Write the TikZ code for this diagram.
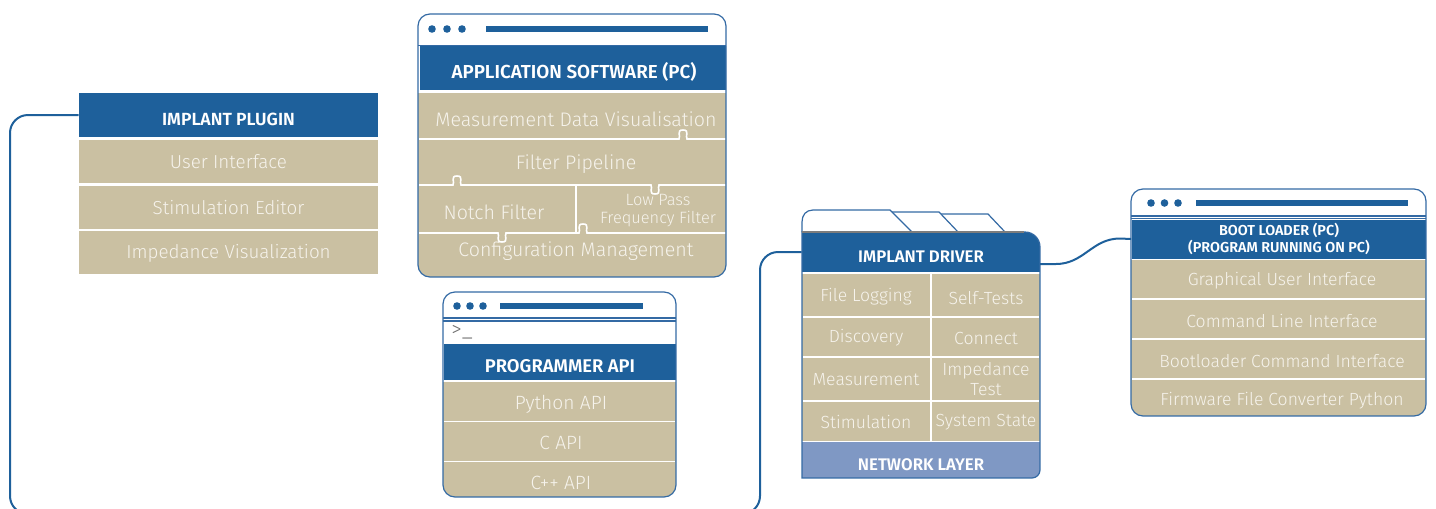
\documentclass[tikz,border=0pt]{standalone}
\usepackage{fontspec}
\setmainfont{Fira Sans}[UprightFont={* Light}, BoldFont={* SemiBold}]
\usetikzlibrary{positioning}
\definecolor{hblue}{RGB}{30,96,155}
\definecolor{frameblue}{RGB}{52,106,164}
\definecolor{netblue}{RGB}{127,152,196}
\definecolor{tanfill}{RGB}{202,192,162}
\definecolor{itemtxt}{RGB}{246,243,236}
\definecolor{termgray}{RGB}{110,110,110}
\definecolor{tabgray}{RGB}{125,125,125}
% three dots and the bar of a window title
\newcommand{\windots}[5]{%
  \foreach \k in {0,1,2}{\fill[hblue] ({#1+\k*#3},#2) circle (1.9pt);}
  \fill[hblue] (#4,{#2-3}) rectangle (#5,{#2+3});}

\begin{document}
\begin{tikzpicture}[
  x=0.5pt, y=-0.5pt,
  hdr/.style={fill=hblue, text=white, inner sep=0pt, align=center,
              text height=1em, text depth=0pt,
              font=\bfseries\fontsize{8.8}{10}\selectfont},
  row/.style={fill=tanfill, text=itemtxt, inner sep=0pt,
              minimum width=149.5pt, minimum height=21.5pt,
              font=\fontsize{9.4}{10}\selectfont},
  item/.style={text=itemtxt, inner sep=0pt, align=center,
               font=\fontsize{8.8}{9.6}\selectfont},
  frame/.style={draw=frameblue, line width=0.6pt},
  sep/.style={draw=white, line width=0.8pt},
  link/.style={draw=hblue, line width=1pt},
  knob/.style n args={3}{insert path={-- ({#1-4},#2)
      .. controls ({#1-2},{#2-3*(#3)}) and ({#1-7},{#2-9*(#3)}) .. (#1,{#2-9*(#3)})
      .. controls ({#1+7},{#2-9*(#3)}) and ({#1+2},{#2-3*(#3)}) .. ({#1+4},#2)}},
]
\useasboundingbox (0,0) rectangle (1436,509);
\clip (0,0) rectangle (1436,509);

% implant plugin
\node[hdr, minimum width=149.5pt, minimum height=22pt] (plugin) at (228.5,115) {IMPLANT PLUGIN};
\node[row, below=1pt of plugin] (userif) {User Interface};
\node[row, below=1pt of userif] (stimed) {Stimulation Editor};
\node[row, below=1pt of stimed] (impvis) {Impedance Visualization};

% application software window
\begin{scope}
  \clip[rounded corners=6pt] (418,14) rectangle (726,277);
  \fill[tanfill] (418,93) rectangle (726,277);
  \node[hdr, minimum width=154pt, minimum height=22pt,
        font=\bfseries\fontsize{9.4}{10}\selectfont] (appsw) at (574,68) {APPLICATION SOFTWARE (PC)};
\end{scope}
\draw[frame] (418,45.5) -- (726,45.5);
\draw[frame, rounded corners=6pt] (418,14) rectangle (726,277);
\windots{432}{29}{15}{486}{708}
\draw[sep] (419,139) [knob={683}{139}{1}] -- (725,139);
\draw[sep] (419,185) [knob={457}{185}{1}] [knob={655}{185}{-1}] -- (725,185);
\draw[sep] (576,185) -- (576,233);
\draw[sep] (419,233) [knob={502}{233}{-1}] [knob={583}{233}{1}] -- (725,233);
\node[item, font=\fontsize{9.8}{10}\selectfont] (measvis) at (576,119) {Measurement Data Visualisation};
\node[item, font=\fontsize{9.8}{10}\selectfont] (filtpipe) at (576,164) {Filter Pipeline};
\node[item, font=\fontsize{9.8}{10}\selectfont] (notch) at (494,212) {Notch Filter};
\node[item, font=\fontsize{8.2}{9}\selectfont] (lowpass) at (658,211) {Low Pass\\Frequency Filter};
\node[item, font=\fontsize{9.8}{10}\selectfont] (config) at (576,251) {Configuration Management};

% programmer api window
\begin{scope}
  \clip[rounded corners=6pt] (443,292) rectangle (676,497);
  \fill[tanfill] (443,382) rectangle (676,497);
  \node[hdr, minimum width=116.5pt, minimum height=18pt,
        font=\bfseries\fontsize{9.2}{10}\selectfont] (progapi) at (560,362) {PROGRAMMER API};
\end{scope}
\draw[frame] (443,318) -- (676,318);
\draw[frame] (443,321) -- (676,321);
\draw[frame, rounded corners=6pt] (443,292) rectangle (676,497);
\windots{457}{306}{13}{500}{643}
\node[item, text=termgray, anchor=west, font=\fontsize{10.5}{11}\selectfont] (prompt) at (451,332) {>\_};
\draw[sep] (444,421.5) -- (675,421.5);
\draw[sep] (444,461.5) -- (675,461.5);
\node[item, font=\fontsize{9.6}{10}\selectfont] (pyapi) at (561,404) {Python API};
\node[item, font=\fontsize{9.6}{10}\selectfont] (capi) at (561,443) {C API};
\node[item, font=\fontsize{9.6}{10}\selectfont] (cppapi) at (561,483) {C++ API};

% implant driver, tabs from back to front
\filldraw[fill=white, frame] (930,232) -- (930,214) -- (988,214) -- (1005,232);
\filldraw[fill=white, frame] (880,232) -- (880,212) -- (939,212) -- (958,232);
\filldraw[fill=white, frame] (802,232) -- (802,222) .. controls (802,215) and (806,210) .. (813,210)
  -- (890,210) -- (912,232);
\begin{scope}
  \clip (802,232) -- (1025,232) .. controls (1033.3,232) and (1040,238.7) .. (1040,247)
    -- (1040,470) .. controls (1040,474.4) and (1036.4,478) .. (1032,478) -- (802,478) -- cycle;
  \fill[tanfill] (802,274) rectangle (1040,441);
  \node[hdr, minimum width=119pt, minimum height=20pt,
        font=\bfseries\fontsize{8.4}{10}\selectfont] (drvhdr) at (921,252) {IMPLANT DRIVER};
  \node[hdr, fill=netblue, minimum width=119pt, minimum height=18pt,
        font=\bfseries\fontsize{8.4}{10}\selectfont] (netlayer) at (921,460) {NETWORK LAYER};
\end{scope}
\draw[frame] (802,232) -- (1025,232) .. controls (1033.3,232) and (1040,238.7) .. (1040,247)
  -- (1040,470) .. controls (1040,474.4) and (1036.4,478) .. (1032,478) -- (802,478) -- cycle;
\draw[tabgray, line width=0.6pt] (802,232) -- (1024,232);
\draw[sep] (803,317) -- (1039,317);
\draw[sep] (803,357) -- (1039,357);
\draw[sep] (803,401) -- (1039,401);
\draw[sep] (931,274) -- (931,441);
\node[item] (filelog) at (866,297) {File Logging};
\node[item] (selftest) at (986,298) {Self-Tests};
\node[item] (discov) at (866,338) {Discovery};
\node[item] (connect) at (986,338) {Connect};
\node[item] (measure) at (866,380) {Measurement};
\node[item] (imptest) at (986,379) {Impedance\\Test};
\node[item] (stimul) at (866,422) {Stimulation};
\node[item] (sysstate) at (986,422) {System State};

% boot loader window
\begin{scope}
  \clip[rounded corners=6pt] (1131,189) rectangle (1426,416);
  \fill[tanfill] (1131,260) rectangle (1426,416);
  \node[hdr, minimum width=147.5pt, minimum height=19.5pt, text height=, text depth=,
        font=\bfseries\fontsize{7.2}{8.2}\selectfont] (boothdr) at (1279,239)
        {BOOT LOADER (PC)\\(PROGRAM RUNNING ON PC)};
\end{scope}
\draw[frame] (1131,216) -- (1426,216);
\draw[frame] (1131,218.5) -- (1426,218.5);
\draw[frame, rounded corners=6pt] (1131,189) rectangle (1426,416);
\windots{1151}{203}{13.5}{1196}{1408}
\draw[sep] (1132,299) -- (1425,299);
\draw[sep] (1132,339) -- (1425,339);
\draw[sep] (1132,379) -- (1425,379);
\node[item, font=\fontsize{8.8}{9}\selectfont] (gui) at (1282,281) {Graphical User Interface};
\node[item, font=\fontsize{8.8}{9}\selectfont] (cli) at (1282,321) {Command Line Interface};
\node[item, font=\fontsize{8.8}{9}\selectfont] (blcmd) at (1282,361) {Bootloader Command Interface};
\node[item, font=\fontsize{8.8}{9}\selectfont] (fwconv) at (1282,401) {Firmware File Converter Python};

% connectors
\draw[link, rounded corners=9pt] (plugin.west) -- (10,115) -- (10,514) -- (760,514)
  -- (760,252) -- (drvhdr.west);
\coordinate (drvport) at (1040,264);
\draw[link] (drvport) -- ++(16,0) .. controls +(28,0) and +(-28,0) .. ++(64,-25.5) -- (boothdr.west);

\end{tikzpicture}
\end{document}
